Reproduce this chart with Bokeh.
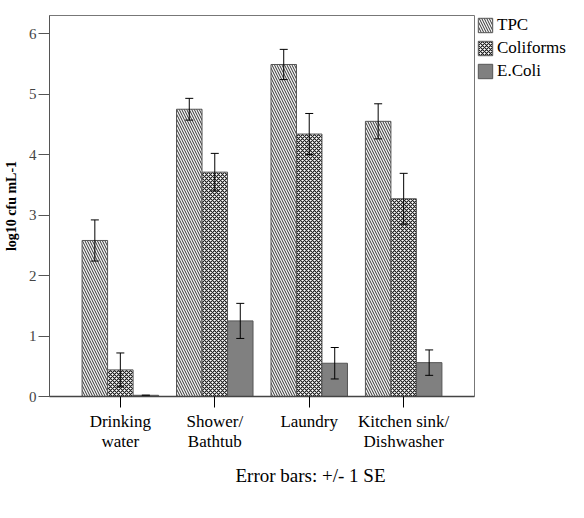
from bokeh.plotting import figure
from bokeh.layouts import row
from bokeh.models import (ColumnDataSource, FactorRange, Range1d, Title,
                          Legend, LegendItem, FixedTicker)
from bokeh.transform import dodge
from bokeh.embed import file_html
from bokeh.resources import INLINE

categories = ["Drinking\nwater", "Shower/\nBathtub", "Laundry", "Kitchen sink/\nDishwasher"]
series = ["TPC", "Coliforms", "E.Coli"]
tpc = [2.58, 4.75, 5.49, 4.55]
tpc_se = [0.34, 0.18, 0.25, 0.29]
coli = [0.44, 3.71, 4.34, 3.27]
coli_se = [0.28, 0.31, 0.34, 0.42]
ecoli = [0.02, 1.25, 0.55, 0.56]
ecoli_se = [0.0, 0.29, 0.26, 0.21]
y_ticks = [0, 1, 2, 3, 4, 5, 6]

SERIF = "Liberation Serif"

p = figure(x_range=FactorRange(*categories, range_padding=0.25, range_padding_units="absolute"),
           y_range=Range1d(0, 6.3), width=476, height=502,
           output_backend="svg", toolbar_location=None,
           min_border_left=48, min_border_top=6, min_border_bottom=106, min_border_right=2)
p.background_fill_color = "white"
p.border_fill_color = "white"
p.outline_line_color = "#777777"
p.xgrid.visible = False
p.ygrid.visible = False

# legend-only figure to the right of the frame
lg = figure(width=92, height=502, output_backend="svg", toolbar_location=None,
            x_range=Range1d(0, 1), y_range=Range1d(0, 1), x_axis_type=None, y_axis_type=None,
            min_border_left=0, min_border_right=0, min_border_top=15, min_border_bottom=0)
lg.outline_line_color = None
lg.xgrid.visible = False
lg.ygrid.visible = False
lg.background_fill_color = "white"
lg.border_fill_color = "white"

bw = 0.27
styles = [
    dict(fill_color="#f4f4f4", hatch_pattern="\\", hatch_color="#333333", hatch_scale=5, hatch_weight=1),
    dict(fill_color="#ffffff", hatch_pattern="x", hatch_color="#1a1a1a", hatch_scale=4, hatch_weight=1.1),
    dict(fill_color="#808080"),
]
vals = [tpc, coli, ecoli]
ses = [tpc_se, coli_se, ecoli_se]
offsets = [-bw, 0.0, bw]

items = []
for name, v, se, off, st in zip(series, vals, ses, offsets, styles):
    src = ColumnDataSource(dict(cat=categories, top=v,
                                upper=[a + b for a, b in zip(v, se)],
                                lower=[a - b for a, b in zip(v, se)]))
    p.vbar(x=dodge("cat", off, range=p.x_range), top="top", bottom=0, width=bw,
           source=src, line_color="#555555", line_width=1, **st)
    xd = dodge("cat", off, range=p.x_range)
    p.segment(x0=xd, x1=xd, y0="lower", y1="upper", source=src,
              line_color="black", line_width=1)
    p.scatter(x=xd, y="upper", source=src, marker="dash", size=8,
              line_color="black", line_width=1)
    p.scatter(x=xd, y="lower", source=src, marker="dash", size=8,
              line_color="black", line_width=1)
    # legend swatch renderer (kept outside the legend panel's visible range)
    lr = lg.vbar(x=[5], top=[1], bottom=0, width=0.1,
                 line_color="#555555", line_width=1, **st)
    items.append(LegendItem(label=name, renderers=[lr]))

legend = Legend(items=items, location="top_left", margin=0, padding=0, spacing=3,
                glyph_width=18, glyph_height=18, label_height=18, label_standoff=3,
                label_text_font=SERIF, label_text_font_size="17px", label_text_color="black",
                border_line_color=None, background_fill_alpha=0)
lg.add_layout(legend)

# y axis
p.yaxis.ticker = FixedTicker(ticks=y_ticks)
p.yaxis.minor_tick_line_color = None
p.yaxis.major_tick_out = 11
p.yaxis.major_tick_in = 0
p.yaxis.major_tick_line_color = "#555555"
p.yaxis.axis_line_color = "#555555"
p.yaxis.major_label_text_font = SERIF
p.yaxis.major_label_text_font_size = "15px"
p.yaxis.major_label_text_color = "#444444"
p.yaxis.major_label_standoff = 2
p.yaxis.axis_label = "log10 cfu mL-1"
p.yaxis.axis_label_text_font = SERIF
p.yaxis.axis_label_text_font_style = "bold"
p.yaxis.axis_label_text_font_size = "14px"
p.yaxis.axis_label_text_color = "black"
p.yaxis.axis_label_standoff = 7

# x axis
p.xaxis.major_tick_out = 11
p.xaxis.major_tick_in = 0
p.xaxis.major_tick_line_color = "black"
p.xaxis.axis_line_color = "#444444"
p.xaxis.axis_line_width = 1.5
p.xaxis.major_label_text_font = SERIF
p.xaxis.major_label_text_font_size = "17px"
p.xaxis.major_label_text_color = "black"
p.xaxis.major_label_text_line_height = 1.1
p.xaxis.major_label_standoff = 4

# blank spacer between the axis labels and the note below
p.add_layout(Title(text=" ", standoff=0, text_font_size="6px"), "below")
p.add_layout(Title(text="Error bars: +/- 1 SE", align="left", offset=186, standoff=0,
                   text_font=SERIF, text_font_size="19px", text_font_style="normal",
                   text_color="black"), "below")

layout = row(p, lg, spacing=0)
open("out.html", "w").write(file_html(layout, INLINE))
